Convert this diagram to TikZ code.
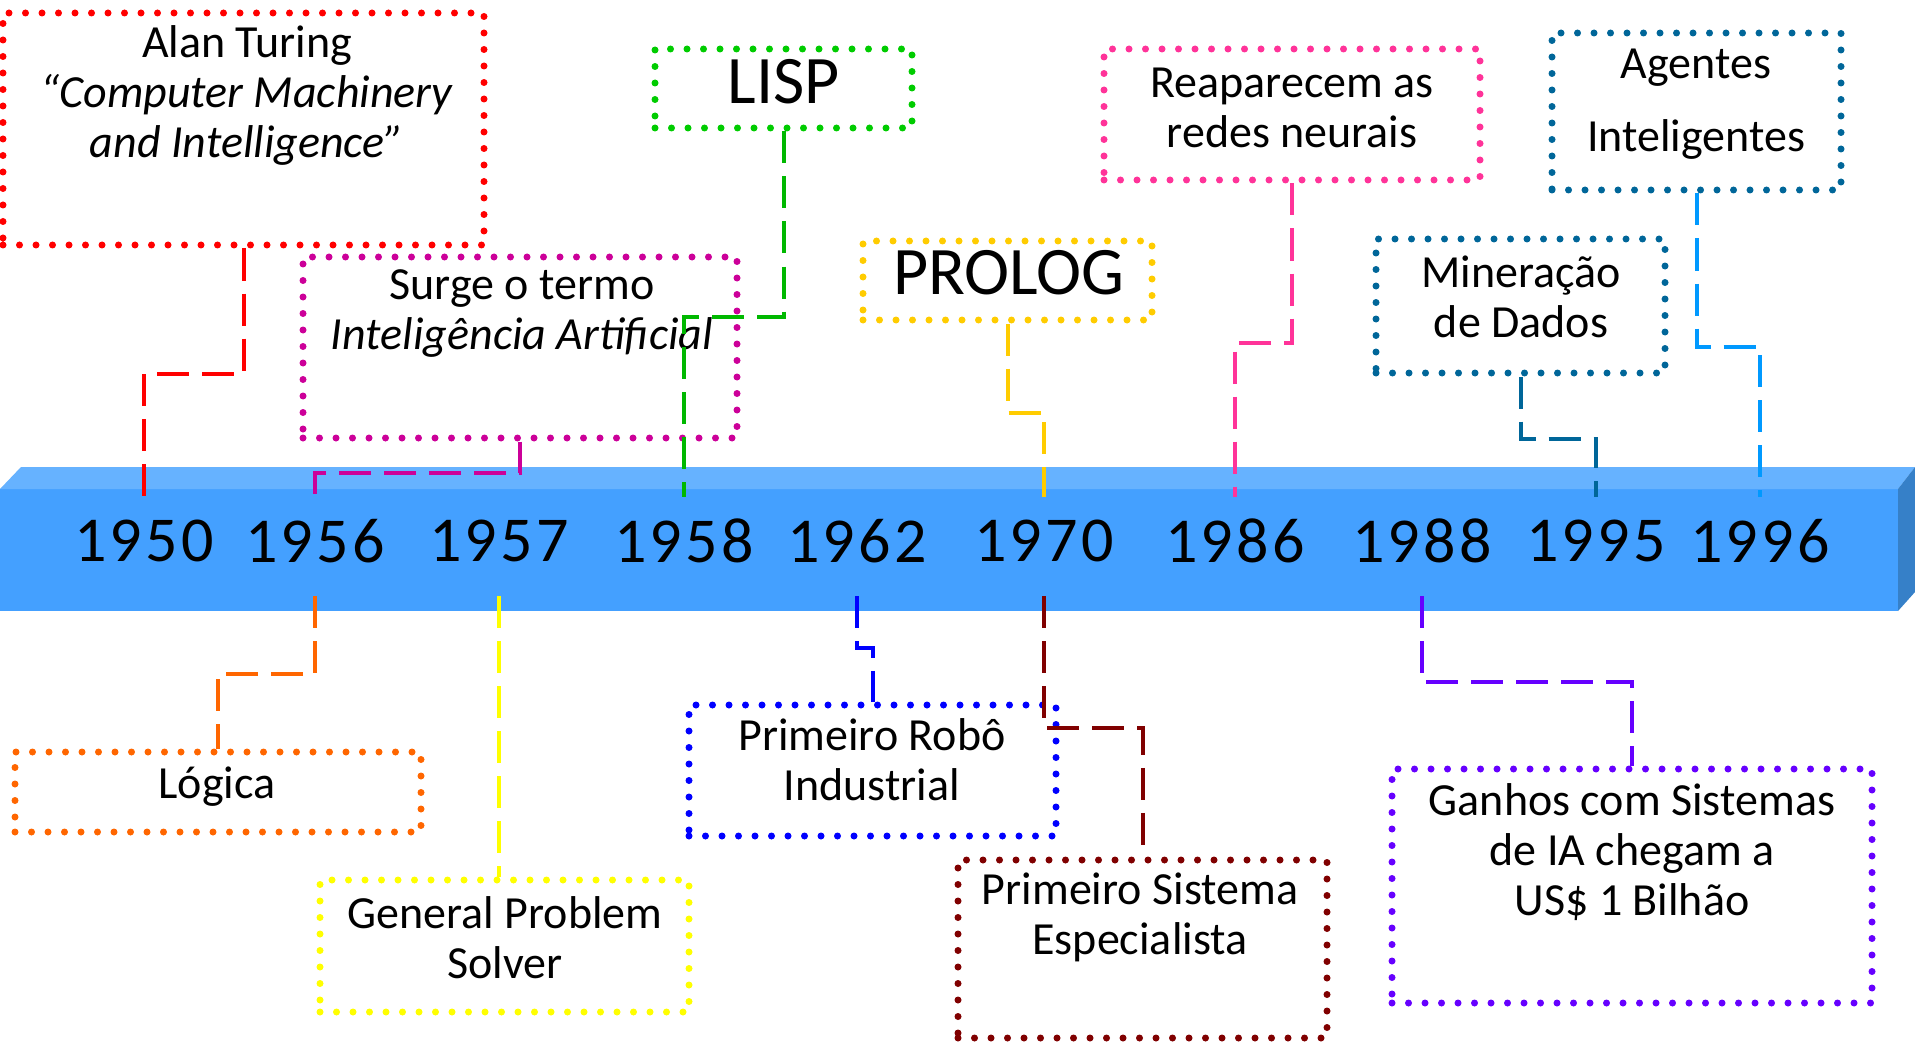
\documentclass[tikz,border=0pt]{standalone}
\usepackage{fontspec}
\setmainfont{Carlito}
\definecolor{cRed}{HTML}{FF0000}
\definecolor{cMag}{HTML}{CC0099}
\definecolor{cGreen}{HTML}{00CC00}
\definecolor{cProlog}{HTML}{FFCC00}
\definecolor{cPink}{HTML}{FF3399}
\definecolor{cTeal}{HTML}{006699}
\definecolor{cLBlue}{HTML}{0099FF}
\definecolor{cOrange}{HTML}{FF6600}
\definecolor{cYellow}{HTML}{FFFF00}
\definecolor{cBlue}{HTML}{0000FF}
\definecolor{cDRed}{HTML}{800000}
\definecolor{cPurple}{HTML}{6600FF}
\definecolor{barFront}{HTML}{44A0FF}
\definecolor{barTop}{HTML}{66B2FF}
\definecolor{barSide}{HTML}{3680C8}
\tikzset{
  box/.style={draw, line width=3.5pt, dash pattern=on 0pt off 8.25pt, line cap=round, inner sep=0pt},
  conn/.style={line width=2pt, dash pattern=on 16pt off 6.5pt},
  txt/.style={align=center, font=\fontsize{23}{25}\selectfont, inner sep=0pt},
  big/.style={align=center, font=\fontsize{34}{36}\selectfont, inner sep=0pt},
  yr/.style={font=\fontsize{32}{34}\selectfont\addfontfeature{LetterSpace=5}, minimum height=49.5pt, text depth=6pt, inner sep=0pt},
}
\begin{document}
\begin{tikzpicture}[x=0.5pt, y=-0.5pt]
\useasboundingbox (0,0) rectangle (1915,1043);
% timeline bar
\fill[barFront] (0,489) rectangle (1898,611);
\fill[barTop] (0,489) -- (21,467) -- (1915,467) -- (1898,489) -- cycle;
\fill[barSide] (1898,489) -- (1915,467) -- (1915,592) -- (1898,611) -- cycle;
% years
\node[yr] (y1950) at (144,546.5) {1950};
\node[yr] (y1956) at (315,546.5) {1956};
\node[yr] (y1957) at (499,546.5) {1957};
\node[yr] (y1958) at (684,546.5) {1958};
\node[yr] (y1962) at (857,546.5) {1962};
\node[yr] (y1970) at (1044,546.5) {1970};
\node[yr] (y1986) at (1235,546.5) {1986};
\node[yr] (y1988) at (1422,546.5) {1988};
\node[yr] (y1995) at (1596,546.5) {1995};
\node[yr] (y1996) at (1760,546.5) {1996};
% upper boxes
\node[box, draw=cRed, minimum width=240.5pt, minimum height=116pt] (turing) at (243.5,129) {};
\node[txt] (turingT) at (247,95) {Alan Turing\\\textit{“Computer Machinery}\\\textit{and Intelligence”}};
\node[box, draw=cMag, minimum width=217pt, minimum height=90.5pt] (surge) at (520,347.5) {};
\node[txt] (surgeT) at (522,314) {Surge o termo\\\textit{Inteligência Artificial}};
\node[box, draw=cGreen, minimum width=128.5pt, minimum height=39.5pt] (lisp) at (783.5,88.5) {};
\node[big] (lispT) at (784,82) {LISP};
\node[box, draw=cProlog, minimum width=144.5pt, minimum height=39.5pt] (prolog) at (1007.5,280.5) {};
\node[big] (prologT) at (1009,273) {PROLOG};
\node[box, draw=cPink, minimum width=188pt, minimum height=65.5pt] (reap) at (1292,114.5) {};
\node[txt] (reapT) at (1292,108) {Reaparecem as\\redes neurais};
\node[box, draw=cTeal, minimum width=144.5pt, minimum height=78.5pt] (agentes) at (1696.5,111.5) {};
\node[txt, font=\fontsize{23}{36.5}\selectfont] (agentesT) at (1696,104) {Agentes\\Inteligentes};
\node[box, draw=cTeal, minimum width=144.5pt, minimum height=67pt] (miner) at (1520.5,306) {};
\node[txt] (minerT) at (1521,297) {Mineração\\de Dados};
% lower boxes
\node[box, draw=cOrange, minimum width=203pt, minimum height=40pt] (logica) at (218,792) {};
\node[txt] (logicaT) at (217,787) {Lógica};
\node[box, draw=cYellow, minimum width=184.5pt, minimum height=66pt] (gps) at (504.5,946) {};
\node[txt] (gpsT) at (505,938) {General Problem\\Solver};
\node[box, draw=cBlue, minimum width=183.5pt, minimum height=65.5pt] (robo) at (872.5,770.5) {};
\node[txt] (roboT) at (872,760) {Primeiro Robô\\Industrial};
\node[box, draw=cDRed, minimum width=184.5pt, minimum height=89pt] (esp) at (1142.5,949) {};
\node[txt] (espT) at (1140,917) {Primeiro Sistema\\Especialista};
\node[box, draw=cPurple, minimum width=240pt, minimum height=117pt] (ganhos) at (1632,886) {};
\node[txt] (ganhosT) at (1632,852) {Ganhos com Sistemas\\de IA chegam a\\US\$ 1 Bilhão};
% connectors upper
\draw[conn, cRed] (turing.south) -- ++(0,125) -| (y1950.north);
\draw[conn, cMag] (surge.south) -- ++(0,31) -| (y1956.north);
\draw[conn, cGreen!90!black] (lisp.south) -- ++(0,185) -| (y1958.north);
\draw[conn, cProlog] (prolog.south) -- ++(0,89) -| (y1970.north);
\draw[conn, cPink] (reap.south) -- ++(0,159) -| (y1986.north);
\draw[conn, cTeal] (miner.south) -- ++(0,62) -| (y1995.north);
\draw[conn, cLBlue] (agentes.south) -- ++(0,153) -| (y1996.north);
% connectors lower
\draw[conn, cOrange] (y1956.south) -- ++(0,78) -| (logica.north);
\draw[conn, cYellow] (y1957.south) -- (y1957.south |- gps.north);
\draw[conn, cBlue] (y1962.south) -- ++(0,52) -| (robo.north);
\draw[conn, cDRed] (y1970.south) -- ++(0,132) -| (esp.north);
\draw[conn, cPurple] (y1988.south) -- ++(0,86) -| (ganhos.north);
\end{tikzpicture}
\end{document}
